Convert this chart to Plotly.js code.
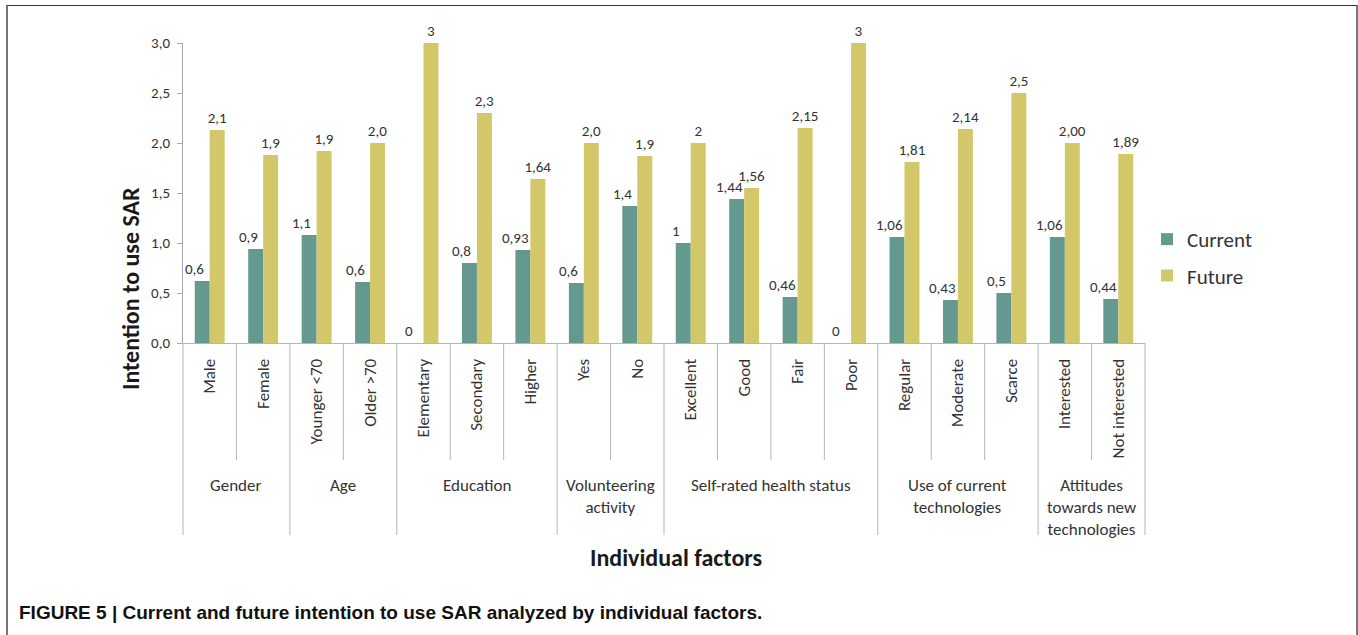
<!DOCTYPE html>
<html>
<head>
<meta charset="utf-8">
<script src="https://cdn.plot.ly/plotly-3.0.1.min.js"></script>
<style>
html,body{margin:0;padding:0;background:#fff;}
#wrap{position:relative;width:1358px;height:635px;}
#chart{width:1358px;height:635px;}
#frame{position:absolute;left:6px;top:5px;width:1348px;height:640px;border-top:1.5px solid #333;border-left:2px solid #777;border-right:2px solid #777;pointer-events:none;}
</style>
</head>
<body>
<div id="wrap"><div id="chart"></div><div id="frame"></div></div>
<script>
// Categories (inner level) and groups (outer level)
const categories = ["Male","Female","Younger <70","Older >70","Elementary","Secondary","Higher","Yes","No","Excellent","Good","Fair","Poor","Regular","Moderate","Scarce","Interested","Not interested"];
const groupNames = ["Gender","Age","Education","Volunteering<br>activity","Self-rated health status","Use of current<br>technologies","Attitudes<br>towards new<br>technologies"];
const groupSizes = [2,2,3,2,4,3,2];

// Series values
const currentValues = [0.62,0.94,1.08,0.61,0,0.80,0.93,0.60,1.37,1.00,1.44,0.46,0,1.06,0.43,0.50,1.06,0.44];
const futureValues  = [2.13,1.88,1.92,2.00,3.00,2.30,1.64,2.00,1.87,2.00,1.55,2.15,3.00,1.81,2.14,2.50,2.00,1.89];

// Data labels as printed
const currentLabels = ["0,6","0,9","1,1","0,6","0","0,8","0,93","0,6","1,4","1","1,44","0,46","0","1,06","0,43","0,5","1,06","0,44"];
const futureLabels  = ["2,1","1,9","1,9","2,0","3","2,3","1,64","2,0","1,9","2","1,56","2,15","3","1,81","2,14","2,5","2,00","1,89"];

const yTickVals = [0,0.5,1,1.5,2,2.5,3];

const FONT = "Carlito, Lato, 'Open Sans', sans-serif";
const N = categories.length;

const traces = [
  {type:'bar', name:'Current', x:categories, y:currentValues,
   marker:{color:'#65998F'}, cliponaxis:false, legendgroup:'a', hoverinfo:'x+y'},
  {type:'bar', name:'Future', x:categories, y:futureValues, text:futureLabels, textposition:'outside',
   texttemplate:'%{text}', marker:{color:'#D2C86A'}, cliponaxis:false, constraintext:'none',
   textfont:{family:FONT,size:15,color:'#333'}, legendgroup:'b', hoverinfo:'x+y'}
];

const shapes = [];
const annotations = [];
const PLOT_BOT = 343, PLOT_H = 300;
const py = p => (PLOT_BOT - p) / PLOT_H;

// Current labels: placed at each bar value, nudged left like the original
categories.forEach((c,i) => {
  annotations.push({xref:'x', yref:'y', x:c, y:currentValues[i], xshift:-15, yshift:1, yanchor:'bottom', xanchor:'center',
    text:currentLabels[i], showarrow:false, font:{family:FONT,size:15,color:'#333'}});
});

let start = 0;
const groupBounds = new Set([-0.5]);
groupSizes.forEach((s,gi) => {
  const end = start + s;
  groupBounds.add(end - 0.5);
  annotations.push({xref:'x', yref:'paper', x:(start + end - 1)/2, y:py(473), yanchor:'top', xanchor:'center',
    text:groupNames[gi], showarrow:false, font:{family:FONT,size:17,color:'#333'}, align:'center'});
  start = end;
});
for (let i = -1; i < N; i++) {
  const xb = i + 0.5;
  const isGroup = groupBounds.has(xb);
  shapes.push({type:'line', xref:'paper', yref:'paper', x0:(xb+0.5)/N, x1:(xb+0.5)/N, y0:0, y1:py(isGroup?535:460),
    line:{color:'#b5b5b5', width:1}});
}

annotations.push({xref:'paper', yref:'paper', x:(130-183)/962, y:py(289), xanchor:'center', yanchor:'middle', textangle:-90,
  text:'<b>Intention to use SAR</b>', showarrow:false, font:{family:FONT,size:24,color:'#1a1a1a'}});
annotations.push({xref:'paper', yref:'paper', x:(676-183)/962, y:py(557), xanchor:'center', yanchor:'middle',
  text:'<b>Individual factors</b>', showarrow:false, font:{family:FONT,size:24,color:'#1a1a1a'}});
annotations.push({xref:'paper', yref:'paper', x:(17-183)/962, y:py(612), xanchor:'left', yanchor:'middle',
  text:'<b>FIGURE 5 | Current and future intention to use SAR analyzed by individual factors.</b>',
  showarrow:false, font:{family:"'Liberation Sans', Arial, sans-serif",size:19,color:'#111'}});

const layout = {
  width:1358, height:635,
  margin:{l:183, r:213, t:43, b:292, pad:0},
  paper_bgcolor:'#fff', plot_bgcolor:'#fff',
  barmode:'group', bargap:0.44, bargroupgap:0,
  separators:',.',
  font:{family:FONT, color:'#333'},
  xaxis:{type:'category', range:[-0.5, N-0.5], showline:true, linecolor:'#b5b5b5', linewidth:1,
    ticks:'', tickangle:-90, ticklabelstandoff:8, tickfont:{family:FONT,size:17,color:'#333'},
    showgrid:false, zeroline:false, fixedrange:true},
  yaxis:{range:[0,3], tickvals:yTickVals, tickformat:'.1f', showline:true, linecolor:'#a8a8a8', linewidth:1,
    ticks:'outside', ticklen:5, tickcolor:'#a8a8a8', tickfont:{family:FONT,size:15,color:'#333'},
    ticklabelstandoff:4, showgrid:false, zeroline:false, fixedrange:true},
  legend:{x:(1147-183)/962, xanchor:'left', y:py(219), yanchor:'top', tracegroupgap:6,
    font:{family:FONT,size:21,color:'#333'}, bgcolor:'rgba(0,0,0,0)'},
  showlegend:true,
  shapes:shapes,
  annotations:annotations
};

Plotly.newPlot('chart', traces, layout, {displayModeBar:false, staticPlot:true});
</script>
</body>
</html>
